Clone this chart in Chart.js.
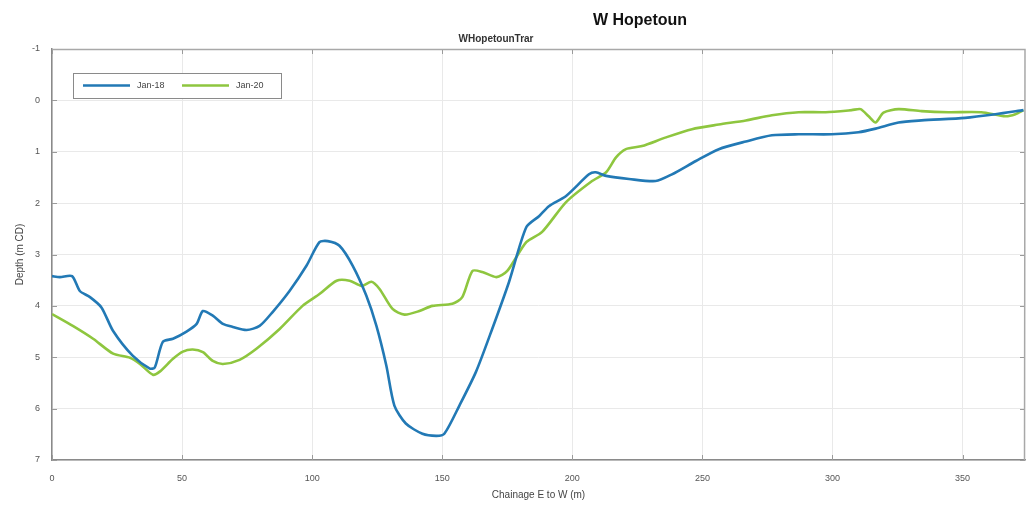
<!DOCTYPE html>
<html>
<head>
<meta charset="utf-8">
<title>W Hopetoun</title>
<script src="https://cdn.jsdelivr.net/npm/chart.js@4/dist/chart.umd.min.js"></script>
<style>
  html, body { margin: 0; padding: 0; background: #fff; }
  #wrap { width: 1028px; height: 511px; position: relative; }
</style>
</head>
<body>
<div id="wrap"><canvas id="c" width="1028" height="511"></canvas></div>
<script>
// Survey profiles: chainage (m, east to west) and bed depth (m CD)
const seriesLabels = ['Jan-18', 'Jan-20'];

const jan18Chainage = [0, 3, 7.7, 10.7, 14.6, 19, 23.5, 31, 37.6, 39.5, 42.6, 46.5, 51.7, 55.6, 58, 61.8, 65.7, 69.5, 74.8, 79.8, 84.8, 91.3, 97.8, 102.8, 106, 110.5, 115.6, 120.8, 124.7, 128.5, 131.6, 136, 142.4, 147.7, 150.8, 156.6, 163, 169.2, 175.7, 182.3, 187.3, 191, 197.6, 206.4, 209, 213, 221.8, 232, 238.3, 247.5, 256.3, 266.7, 276.7, 287, 299.7, 310, 316.6, 325.4, 334.2, 351, 362.6, 373.4];
const jan18Depth = [3.42, 3.44, 3.42, 3.71, 3.83, 4.03, 4.49, 4.97, 5.22, 5.2, 4.7, 4.64, 4.5, 4.35, 4.1, 4.19, 4.35, 4.41, 4.47, 4.39, 4.12, 3.71, 3.22, 2.76, 2.74, 2.83, 3.22, 3.8, 4.39, 5.16, 5.94, 6.29, 6.49, 6.53, 6.49, 5.94, 5.28, 4.45, 3.53, 2.47, 2.25, 2.06, 1.86, 1.44, 1.40, 1.47, 1.53, 1.57, 1.44, 1.18, 0.95, 0.8, 0.68, 0.66, 0.66, 0.62, 0.55, 0.43, 0.39, 0.34, 0.27, 0.19];

const jan20Chainage = [0, 8, 15.8, 23.5, 30, 33.8, 38.8, 41.4, 46.5, 50.3, 54.1, 58, 61.8, 65.7, 72.1, 78.7, 87.5, 96.3, 102.8, 109.4, 114.4, 119, 122.8, 125.9, 130.9, 135.5, 141.2, 146.2, 153.9, 157.7, 161.6, 165.4, 170.8, 175, 182.3, 188.4, 197.6, 207.6, 213, 216.8, 220.6, 226.8, 236, 246, 256.3, 266.7, 276.7, 287, 297.4, 307.4, 310.8, 313.9, 316.6, 319.6, 325.4, 334.2, 344.6, 357.2, 366.5, 370.3, 373.4];
const jan20Depth = [4.16, 4.39, 4.64, 4.93, 5.01, 5.13, 5.34, 5.28, 5.03, 4.89, 4.85, 4.9, 5.07, 5.13, 5.05, 4.83, 4.45, 4.0, 3.77, 3.51, 3.51, 3.61, 3.53, 3.67, 4.06, 4.17, 4.1, 4.0, 3.96, 3.83, 3.32, 3.34, 3.44, 3.32, 2.76, 2.56, 1.98, 1.57, 1.40, 1.11, 0.95, 0.89, 0.72, 0.56, 0.47, 0.39, 0.29, 0.23, 0.23, 0.19, 0.17, 0.31, 0.43, 0.24, 0.17, 0.21, 0.23, 0.23, 0.31, 0.27, 0.19];

const xTicks = [0, 50, 100, 150, 200, 250, 300, 350];
const yTicks = [-1, 0, 1, 2, 3, 4, 5, 6, 7];

const chartTitle = 'W Hopetoun';
const chartSubtitle = 'WHopetounTrar';
const xTitle = 'Chainage E to W (m)';
const yTitle = 'Depth (m CD)';

const colors = ['#2279b5', '#8ec63f'];
const FONT = '"Liberation Sans", Arial, sans-serif';

function pts(xs, ys) { return xs.map((x, i) => ({ x: x, y: ys[i] })); }

// Titles drawn above the axes box
const titlesPlugin = {
  id: 'titles',
  afterDraw(chart) {
    const ctx = chart.ctx;
    ctx.save();
    ctx.textAlign = 'center';
    ctx.textBaseline = 'middle';
    ctx.fillStyle = '#111';
    ctx.font = 'bold 16px ' + FONT;
    ctx.fillText(chartTitle, 640, 21);
    ctx.fillStyle = '#333';
    ctx.font = 'bold 10px ' + FONT;
    ctx.fillText(chartSubtitle, 496, 39);
    ctx.restore();
  }
};

// Box outline and inward tick marks on all four sides
const boxPlugin = {
  id: 'box',
  afterDatasetsDraw(chart) {
    const { ctx, chartArea: a, scales } = chart;
    ctx.save();
    ctx.strokeStyle = '#9a9a9a';
    ctx.lineWidth = 1;
    ctx.beginPath();
    xTicks.forEach(v => {
      const px = Math.round(scales.x.getPixelForValue(v)) + 0.5;
      ctx.moveTo(px, a.bottom); ctx.lineTo(px, a.bottom - 5);
      ctx.moveTo(px, a.top); ctx.lineTo(px, a.top + 5);
    });
    yTicks.forEach(v => {
      const py = Math.round(scales.y.getPixelForValue(v)) + 0.5;
      ctx.moveTo(a.left, py); ctx.lineTo(a.left + 5, py);
      ctx.moveTo(a.right, py); ctx.lineTo(a.right - 5, py);
    });
    ctx.stroke();
    ctx.strokeStyle = '#a8a8a8';
    ctx.lineWidth = 1.5;
    ctx.beginPath();
    ctx.moveTo(a.left, a.top + 0.5); ctx.lineTo(a.right, a.top + 0.5);
    ctx.lineTo(a.right - 0.5, a.bottom);
    ctx.stroke();
    ctx.restore();
  }
};

// Boxed legend in the upper-left corner of the axes
const legendPlugin = {
  id: 'boxLegend',
  afterDraw(chart) {
    const ctx = chart.ctx;
    const a = chart.chartArea;
    const x0 = a.left + 21, y0 = a.top + 24, w = 208, h = 25;
    ctx.save();
    ctx.fillStyle = '#fff';
    ctx.fillRect(x0, y0, w, h);
    ctx.strokeStyle = '#8a8a8a';
    ctx.lineWidth = 1;
    ctx.strokeRect(x0 + 0.5, y0 + 0.5, w, h);
    ctx.font = '9px ' + FONT;
    ctx.textBaseline = 'middle';
    ctx.fillStyle = '#444';
    let cx = x0 + 10;
    chart.data.datasets.forEach(ds => {
      ctx.strokeStyle = ds.borderColor;
      ctx.lineWidth = 2.5;
      ctx.beginPath();
      ctx.moveTo(cx, y0 + h / 2); ctx.lineTo(cx + 47, y0 + h / 2);
      ctx.stroke();
      ctx.fillText(ds.label, cx + 54, y0 + h / 2 + 0.5);
      cx += 99;
    });
    ctx.restore();
  }
};

new Chart(document.getElementById('c'), {
  type: 'line',
  data: {
    datasets: [
      { label: seriesLabels[0], data: pts(jan18Chainage, jan18Depth), borderColor: colors[0], backgroundColor: colors[0], borderWidth: 2.6, pointRadius: 0, tension: 0.25, fill: false },
      { label: seriesLabels[1], data: pts(jan20Chainage, jan20Depth), borderColor: colors[1], backgroundColor: colors[1], borderWidth: 2.6, pointRadius: 0, tension: 0.25, fill: false }
    ]
  },
  options: {
    responsive: false,
    animation: false,
    layout: { padding: { top: 49, right: 3, left: 10, bottom: 0 } },
    plugins: { legend: { display: false }, title: { display: false }, tooltip: { enabled: false } },
    scales: {
      x: {
        type: 'linear', min: 0, max: 374,
        afterBuildTicks(s) { s.ticks = xTicks.map(v => ({ value: v })); },
        afterFit(s) { s.height = 51; },
        grid: { color: '#e9e9e9', drawTicks: false },
        border: { color: '#8a8a8a', width: 1.5 },
        ticks: { padding: 13, color: '#555', font: { family: FONT, size: 9 }, maxRotation: 0 },
        title: { display: true, text: xTitle, color: '#444', font: { family: FONT, size: 10 }, padding: { top: 4, bottom: 10 } }
      },
      y: {
        type: 'linear', min: -1, max: 7, reverse: true,
        afterBuildTicks(s) { s.ticks = yTicks.map(v => ({ value: v })); },
        afterFit(s) { s.width = 42; },
        grid: { color: '#e9e9e9', drawTicks: false },
        border: { color: '#8a8a8a', width: 1.5 },
        ticks: { padding: 12, color: '#555', font: { family: FONT, size: 9 } },
        title: { display: true, text: yTitle, color: '#444', font: { family: FONT, size: 10 }, padding: { bottom: 2 } }
      }
    }
  },
  plugins: [boxPlugin, legendPlugin, titlesPlugin]
});
</script>
</body>
</html>
